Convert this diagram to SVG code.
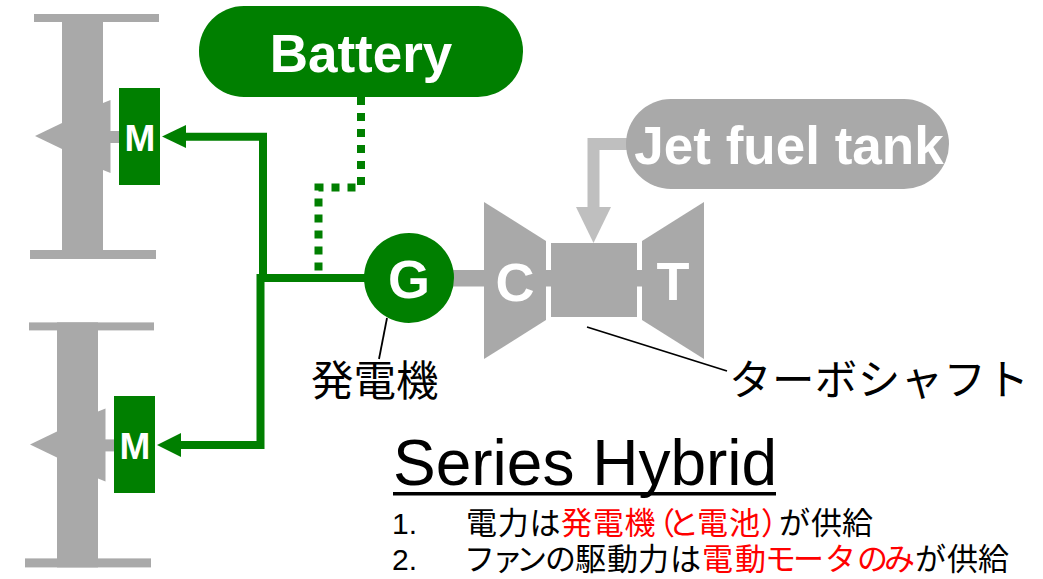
<svg xmlns="http://www.w3.org/2000/svg" width="1043" height="579" viewBox="0 0 1043 579">
<style>
.g{fill:#a9a9a9}
.gr{fill:#007f00}
.wl{fill:#fff;font-family:"Liberation Sans",Arial,sans-serif;font-weight:bold;text-anchor:middle}
.lb{font-family:"Liberation Sans","Noto Sans CJK JP",sans-serif;fill:#000}
.red{fill:#f00}
.palt{font-feature-settings:"palt"}
.wire{fill:none;stroke:#007f00;stroke-width:8}
.dot{fill:none;stroke:#007f00;stroke-width:8;stroke-dasharray:8 8}
.lead{stroke:#000;stroke-width:1.8;fill:none}
</style>
<defs>
<g id="fan">
<rect class="g" x="34" y="14" width="125" height="8"/>
<rect class="g" x="30" y="250" width="126" height="9"/>
<rect class="g" x="62" y="14" width="41" height="245"/>
<polygon class="g" points="35,136 62,123 62,149"/>
<polygon class="g" points="103,103 110.5,100 110.5,173 103,170"/>
<rect class="g" x="110" y="131" width="9" height="12"/>
</g>
</defs>
<g id="fan-top"><use href="#fan"/></g>
<g id="fan-bottom"><use href="#fan" transform="translate(-5 308.4)"/></g>
<g id="connectors">
<path class="dot" d="M361 97V187.500H318.500V272"/>
<path class="wire" d="M186 136.700H263V278"/>
<path class="wire" d="M365 278H260.500V445H180"/>
<polygon class="gr" points="162,136.500 186,125 186,148"/>
<polygon class="gr" points="157,445 181,433 181,457"/>
<path d="M630 144H593.500V208" fill="none" stroke="#bfbfbf" stroke-width="12"/>
<polygon fill="#bfbfbf" points="576,207 611,207 593.500,243"/>
<rect class="g" x="450" y="270" width="110" height="16.500"/>
<rect class="g" x="630" y="270" width="20" height="16.500"/>
<line class="lead" x1="387" y1="318" x2="379" y2="359"/>
<line class="lead" x1="587" y1="327" x2="727" y2="371"/>
</g>
<g id="motor-top"><rect class="gr" x="119" y="88" width="41" height="97"/><text class="wl" x="140" y="151" font-size="37">M</text></g>
<g id="motor-bottom"><rect class="gr" x="114" y="396" width="41" height="97"/><text class="wl" x="135" y="459" font-size="37">M</text></g>
<g id="battery"><rect class="gr" x="199" y="6" width="324" height="91" rx="45" ry="45"/><text class="wl" x="361" y="72" font-size="53">Battery</text></g>
<g id="tank"><rect class="g" x="626" y="99" width="323" height="90" rx="45" ry="45"/><text class="wl" x="789" y="164" font-size="53">Jet fuel tank</text></g>
<g id="generator"><circle class="gr" cx="409" cy="278" r="45"/><text class="wl" x="409" y="298" font-size="54">G</text></g>
<g id="compressor"><polygon class="g" points="484,202 546,241 546,320 484,359"/><text class="wl" x="515" y="301" font-size="54">C</text></g>
<g id="combustor"><rect class="g" x="551" y="243" width="86" height="74"/></g>
<g id="turbine"><polygon class="g" points="642,241 704,202 704,359 642,320"/><text class="wl" x="673" y="300" font-size="54">T</text></g>
<g id="labels">
<text class="lb" x="311" y="396" font-size="42.500">発電機</text>
<text class="lb" x="729" y="395" font-size="42.500" letter-spacing="0.4">ターボシャフト</text>
<text class="lb" x="393" y="485" font-size="64">Series Hybrid</text>
<rect x="393" y="492" width="383" height="3.500" fill="#000"/>
<text class="lb" x="392" y="534" font-size="30">1.</text>
<text class="lb" font-size="31" y="534"><tspan x="466 497.700 529.400">電力は</tspan><tspan class="red" x="561 592.800 624.500 644 668 697 729">発電機（と電池</tspan><tspan class="red palt" x="762">）</tspan><tspan x="779 811 842">が供給</tspan></text>
<text class="lb" x="392" y="570" font-size="30">2.</text>
<text class="lb" font-size="31" y="570"><tspan x="464 492 516 545 575 607 638 670">ファンの駆動力は</tspan><tspan class="red" x="702 735 765 793 825 857 884">電動モータのみ</tspan><tspan x="915 947 978">が供給</tspan></text>
</g>
</svg>
